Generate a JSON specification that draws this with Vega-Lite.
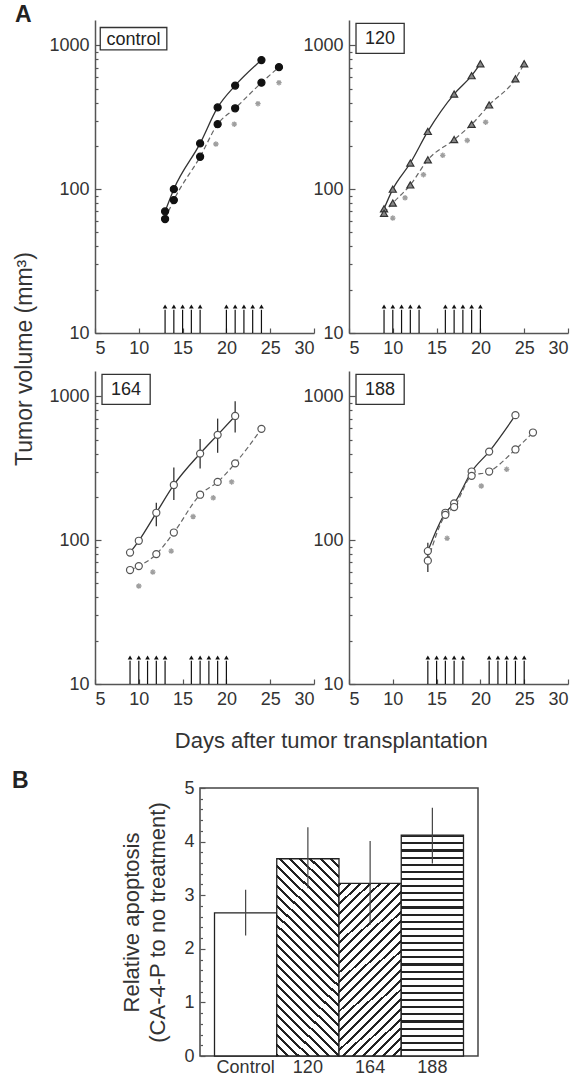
{
"$schema":"https://vega.github.io/schema/vega-lite/v6.json",
"padding":{"left":12,"top":4,"right":4,"bottom":0},
"title":{"text":"A","anchor":"start","frame":"bounds","fontSize":23,"fontWeight":"bold","offset":-17,"dx":3},
"config":{
 "font":"Liberation Sans",
 "view":{"stroke":null},
 "header":{"labels":false,"title":null,"labelPadding":0,"titlePadding":0},
 "headerFacet":{"labels":false,"title":null,"labelPadding":0,"titlePadding":0},
 "axis":{"labelFont":"Liberation Sans","labelFontSize":18,"labelColor":"#333","domainColor":"#555","domainWidth":1.5,"tickColor":"#555","tickWidth":1.2,"grid":false,"titleFont":"Liberation Sans","titleColor":"#333","titleFontWeight":"normal"},
 "title":{"font":"Liberation Sans","color":"#222"}
},
"datasets":{
"growth":[
{"panel":"control","kind":"label","label":"control"},
{"panel":"control","kind":"solid","day":13,"vol":70},
{"panel":"control","kind":"solid","day":14,"vol":100},
{"panel":"control","kind":"solid","day":17,"vol":208},
{"panel":"control","kind":"solid","day":19,"vol":370},
{"panel":"control","kind":"solid","day":21,"vol":525},
{"panel":"control","kind":"solid","day":24,"vol":790},
{"panel":"control","kind":"dashed","day":13,"vol":62},
{"panel":"control","kind":"dashed","day":14,"vol":84},
{"panel":"control","kind":"dashed","day":17,"vol":168},
{"panel":"control","kind":"dashed","day":19,"vol":283},
{"panel":"control","kind":"dashed","day":21,"vol":365},
{"panel":"control","kind":"dashed","day":24,"vol":550},
{"panel":"control","kind":"dashed","day":26,"vol":705},
{"panel":"control","kind":"star","day":18.8,"vol":206},
{"panel":"control","kind":"star","day":20.9,"vol":283},
{"panel":"control","kind":"star","day":23.6,"vol":393},
{"panel":"control","kind":"star","day":26,"vol":550},
{"panel":"control","kind":"dose","day":13},
{"panel":"control","kind":"dose","day":14},
{"panel":"control","kind":"dose","day":15},
{"panel":"control","kind":"dose","day":16},
{"panel":"control","kind":"dose","day":17},
{"panel":"control","kind":"dose","day":20},
{"panel":"control","kind":"dose","day":21},
{"panel":"control","kind":"dose","day":22},
{"panel":"control","kind":"dose","day":23},
{"panel":"control","kind":"dose","day":24},
{"panel":"120","kind":"label","label":"120"},
{"panel":"120","kind":"solid","day":9,"vol":73},
{"panel":"120","kind":"solid","day":10,"vol":100},
{"panel":"120","kind":"solid","day":12,"vol":152},
{"panel":"120","kind":"solid","day":14,"vol":252},
{"panel":"120","kind":"solid","day":17,"vol":458},
{"panel":"120","kind":"solid","day":19,"vol":615},
{"panel":"120","kind":"solid","day":20,"vol":745},
{"panel":"120","kind":"dashed","day":9,"vol":68},
{"panel":"120","kind":"dashed","day":10,"vol":80},
{"panel":"120","kind":"dashed","day":12,"vol":107},
{"panel":"120","kind":"dashed","day":14,"vol":160},
{"panel":"120","kind":"dashed","day":17,"vol":221},
{"panel":"120","kind":"dashed","day":19,"vol":282},
{"panel":"120","kind":"dashed","day":21,"vol":385},
{"panel":"120","kind":"dashed","day":24,"vol":585},
{"panel":"120","kind":"dashed","day":25,"vol":745},
{"panel":"120","kind":"star","day":10,"vol":63},
{"panel":"120","kind":"star","day":11.4,"vol":87},
{"panel":"120","kind":"star","day":13.5,"vol":126},
{"panel":"120","kind":"star","day":15.7,"vol":172},
{"panel":"120","kind":"star","day":18.5,"vol":218},
{"panel":"120","kind":"star","day":20.6,"vol":292},
{"panel":"120","kind":"dose","day":9},
{"panel":"120","kind":"dose","day":10},
{"panel":"120","kind":"dose","day":11},
{"panel":"120","kind":"dose","day":12},
{"panel":"120","kind":"dose","day":13},
{"panel":"120","kind":"dose","day":16},
{"panel":"120","kind":"dose","day":17},
{"panel":"120","kind":"dose","day":18},
{"panel":"120","kind":"dose","day":19},
{"panel":"120","kind":"dose","day":20},
{"panel":"164","kind":"label","label":"164"},
{"panel":"164","kind":"solid","day":9,"vol":82},
{"panel":"164","kind":"solid","day":10,"vol":99},
{"panel":"164","kind":"solid","day":12,"vol":155},
{"panel":"164","kind":"solid","day":14,"vol":242},
{"panel":"164","kind":"solid","day":17,"vol":400},
{"panel":"164","kind":"solid","day":19,"vol":540},
{"panel":"164","kind":"solid","day":21,"vol":730},
{"panel":"164","kind":"err","day":12,"lo":125,"hi":182},
{"panel":"164","kind":"err","day":14,"lo":190,"hi":320},
{"panel":"164","kind":"err","day":17,"lo":315,"hi":505},
{"panel":"164","kind":"err","day":19,"lo":405,"hi":700},
{"panel":"164","kind":"err","day":21,"lo":560,"hi":925},
{"panel":"164","kind":"dashed","day":9,"vol":62},
{"panel":"164","kind":"dashed","day":10,"vol":66},
{"panel":"164","kind":"dashed","day":12,"vol":80},
{"panel":"164","kind":"dashed","day":14,"vol":113},
{"panel":"164","kind":"dashed","day":17,"vol":207},
{"panel":"164","kind":"dashed","day":19,"vol":254},
{"panel":"164","kind":"dashed","day":21,"vol":342},
{"panel":"164","kind":"dashed","day":24,"vol":594},
{"panel":"164","kind":"star","day":10,"vol":48},
{"panel":"164","kind":"star","day":11.6,"vol":60},
{"panel":"164","kind":"star","day":13.7,"vol":84},
{"panel":"164","kind":"star","day":16.2,"vol":146},
{"panel":"164","kind":"star","day":18.5,"vol":197},
{"panel":"164","kind":"star","day":20.6,"vol":254},
{"panel":"164","kind":"dose","day":9},
{"panel":"164","kind":"dose","day":10},
{"panel":"164","kind":"dose","day":11},
{"panel":"164","kind":"dose","day":12},
{"panel":"164","kind":"dose","day":13},
{"panel":"164","kind":"dose","day":16},
{"panel":"164","kind":"dose","day":17},
{"panel":"164","kind":"dose","day":18},
{"panel":"164","kind":"dose","day":19},
{"panel":"164","kind":"dose","day":20},
{"panel":"188","kind":"label","label":"188"},
{"panel":"188","kind":"solid","day":14,"vol":84},
{"panel":"188","kind":"solid","day":16,"vol":155},
{"panel":"188","kind":"solid","day":17,"vol":180},
{"panel":"188","kind":"solid","day":19,"vol":300},
{"panel":"188","kind":"solid","day":21,"vol":413},
{"panel":"188","kind":"solid","day":24,"vol":740},
{"panel":"188","kind":"err","day":14,"lo":60,"hi":96},
{"panel":"188","kind":"dashed","day":14,"vol":72},
{"panel":"188","kind":"dashed","day":16,"vol":150},
{"panel":"188","kind":"dashed","day":17,"vol":170},
{"panel":"188","kind":"dashed","day":19,"vol":280},
{"panel":"188","kind":"dashed","day":21,"vol":300},
{"panel":"188","kind":"dashed","day":24,"vol":427},
{"panel":"188","kind":"dashed","day":26,"vol":560},
{"panel":"188","kind":"star","day":16.2,"vol":103},
{"panel":"188","kind":"star","day":20.1,"vol":238},
{"panel":"188","kind":"star","day":23,"vol":311},
{"panel":"188","kind":"dose","day":14},
{"panel":"188","kind":"dose","day":15},
{"panel":"188","kind":"dose","day":16},
{"panel":"188","kind":"dose","day":17},
{"panel":"188","kind":"dose","day":18},
{"panel":"188","kind":"dose","day":21},
{"panel":"188","kind":"dose","day":22},
{"panel":"188","kind":"dose","day":23},
{"panel":"188","kind":"dose","day":24},
{"panel":"188","kind":"dose","day":25}
],
"bars":[
{"group":"Control","value":2.67,"lo":2.25,"hi":3.10},
{"group":"120","value":3.68,"lo":3.13,"hi":4.27},
{"group":"164","value":3.22,"lo":2.45,"hi":4.01},
{"group":"188","value":4.12,"lo":3.59,"hi":4.63}
]
},
"spacing":18,
"vconcat":[
{
 "title":{"text":"Days after tumor transplantation","orient":"bottom","anchor":"middle","frame":"bounds","fontSize":22,"fontWeight":"normal","offset":23,"dx":40,"color":"#333"},
 "vconcat":[
 {
  "data":{"name":"growth"},
  "facet":{"field":"panel","type":"nominal","sort":["control","120","164","188"],"header":{"labels":false,"title":null,"labelExpr":"''"},"title":null},
  "columns":2,
  "spacing":{"row":38,"column":35},
  "bounds":"flush",
  "resolve":{"axis":{"x":"independent","y":"independent"}},
  "title":{"text":"Tumor volume (mm³)","orient":"left","anchor":"middle","fontSize":23,"fontWeight":"normal","offset":12,"color":"#333"},
  "spec":{
   "width":219,"height":313,
   "layer":[
    {"transform":[{"filter":"datum.kind=='solid'"}],"mark":{"type":"line","stroke":"#333","strokeWidth":1.3,"interpolate":"monotone"},
     "encoding":{
      "x":{"field":"day","type":"quantitative","scale":{"domain":[5,30],"nice":false,"zero":false},"axis":{"values":[5,10,15,20,25,30],"title":null,"tickSize":-5,"labelPadding":11}},
      "y":{"field":"vol","type":"quantitative","scale":{"type":"log","domain":[10,1500],"nice":false},"axis":{"values":[10,20,30,40,50,60,70,80,90,100,200,300,400,500,600,700,800,900,1000],"format":"d","labelOverlap":false,"labelExpr":"datum.value==10||datum.value==100||datum.value==1000 ? datum.label : ''","tickSize":{"condition":{"test":"datum.value==10||datum.value==100||datum.value==1000","value":-6},"value":-3},"labelPadding":12,"title":null}},
      "order":{"field":"day"}}},
    {"transform":[{"filter":"datum.kind=='label' && datum.panel=='control'"}],"mark":{"type":"rect","fill":"white","stroke":"#333","strokeWidth":1.3},"encoding":{"x":{"datum":5.6},"x2":{"datum":13.2},"y":{"datum":1330},"y2":{"datum":930}}},
    {"transform":[{"filter":"datum.kind=='label' && datum.panel!='control'"}],"mark":{"type":"rect","fill":"white","stroke":"#333","strokeWidth":1.3},"encoding":{"x":{"datum":5.8},"x2":{"datum":11.3},"y":{"datum":1420},"y2":{"datum":880}}},
    {"transform":[{"filter":"datum.kind=='label' && datum.panel=='control'"}],"mark":{"type":"text","fontSize":18,"color":"#222","align":"center","baseline":"middle","dy":1},"encoding":{"x":{"datum":9.4},"y":{"datum":1115},"text":{"field":"label"}}},
    {"transform":[{"filter":"datum.kind=='label' && datum.panel!='control'"}],"mark":{"type":"text","fontSize":18,"color":"#222","align":"center","baseline":"middle","dy":1},"encoding":{"x":{"datum":8.55},"y":{"datum":1118},"text":{"field":"label"}}},
    {"transform":[{"filter":"datum.kind=='dashed'"}],"mark":{"type":"line","stroke":"#666","strokeWidth":1.2,"strokeDash":[5,3],"interpolate":"monotone"},"encoding":{"x":{"field":"day","type":"quantitative"},"y":{"field":"vol","type":"quantitative"},"order":{"field":"day"}}},
    {"transform":[{"filter":"datum.kind=='err'"}],"mark":{"type":"rule","stroke":"#333","strokeWidth":1.3},"encoding":{"x":{"field":"day","type":"quantitative"},"y":{"field":"lo","type":"quantitative"},"y2":{"field":"hi"}}},
    {"transform":[{"filter":"datum.kind=='solid' || datum.kind=='dashed'"}],"mark":{"type":"point","filled":true,"strokeWidth":1.2,"size":50,"opacity":1},
     "encoding":{
      "x":{"field":"day","type":"quantitative"},
      "y":{"field":"vol","type":"quantitative"},
      "shape":{"field":"panel","type":"nominal","scale":{"domain":["control","120","164","188"],"range":["circle","triangle-up","circle","circle"]},"legend":null},
      "fill":{"field":"panel","type":"nominal","scale":{"domain":["control","120","164","188"],"range":["#111","#888","#fff","#fff"]},"legend":null},
      "stroke":{"field":"panel","type":"nominal","scale":{"domain":["control","120","164","188"],"range":["#111","#333","#555","#555"]},"legend":null}
     }},
    {"transform":[{"filter":"datum.kind=='star'"}],"mark":{"type":"point","shape":"M-1,0H1M0,-1V1M-0.7,-0.7L0.7,0.7M-0.7,0.7L0.7,-0.7","filled":false,"stroke":"#777","strokeWidth":1.3,"size":30},"encoding":{"x":{"field":"day","type":"quantitative"},"y":{"field":"vol","type":"quantitative"}}},
    {"transform":[{"filter":"datum.kind=='dose'"}],"mark":{"type":"rule","stroke":"#111","strokeWidth":1.2},"encoding":{"x":{"field":"day","type":"quantitative"},"y":{"datum":10},"y2":{"datum":14.5}}},
    {"transform":[{"filter":"datum.kind=='dose'"}],"mark":{"type":"point","shape":"triangle-up","filled":true,"color":"#111","size":22,"opacity":1},"encoding":{"x":{"field":"day","type":"quantitative"},"y":{"datum":15.3}}}
   ]
  }
 }
 ]
},
{
 "spacing":24,
 "hconcat":[
 {
  "width":1,"height":268,
  "data":{"values":[]},
  "mark":{"type":"point","opacity":0},
  "encoding":{},
  "title":{"text":"B","anchor":"start","frame":"group","dx":-83,"fontSize":23,"fontWeight":"bold","offset":-5}
 },
 {
 "data":{"name":"bars"},
 "width":278,"height":268,
 "view":{"stroke":"#444","strokeWidth":1.5},
 "encoding":{
  "x":{"field":"group","type":"nominal","sort":["Control","120","164","188"],"scale":{"paddingInner":0,"paddingOuter":0.233},"axis":{"title":null,"labelAngle":0,"ticks":false,"domain":false,"labelPadding":2}},
  "y":{"field":"value","type":"quantitative","scale":{"domain":[0,5],"nice":false},"axis":{"values":[0,0.2,0.4,0.6,0.8,1,1.2,1.4,1.6,1.8,2,2.2,2.4,2.6,2.8,3,3.2,3.4,3.6,3.8,4,4.2,4.4,4.6,4.8,5],"labelExpr":"datum.value % 1 == 0 ? format(datum.value, 'd') : ''","labelOverlap":false,"domain":false,"tickSize":{"condition":{"test":"datum.value % 1 == 0","value":-5},"value":-2.5},"labelPadding":11,"title":["Relative apoptosis","(CA-4-P to no treatment)"],"titleFontSize":22,"titlePadding":14,"titleLineHeight":26}}
 },
 "layer":[
  {"transform":[{"filter":"datum.group=='Control'"}],"mark":{"type":"bar","fill":"#fff","stroke":"#222","strokeWidth":1.3}},
  {"transform":[{"filter":"datum.group=='120'"}],"mark":{"type":"bar","stroke":"#222","strokeWidth":1.3,"fill":{"gradient":"linear","x1":0,"y1":1,"x2":0.3703,"y2":-0.1952,"stops":[
{"offset":0,"color":"#222"},{"offset":0.0115,"color":"#222"},{"offset":0.0115,"color":"#fff"},{"offset":0.0385,"color":"#fff"},
{"offset":0.0385,"color":"#222"},{"offset":0.05,"color":"#222"},{"offset":0.05,"color":"#fff"},{"offset":0.0769,"color":"#fff"},
{"offset":0.0769,"color":"#222"},{"offset":0.0885,"color":"#222"},{"offset":0.0885,"color":"#fff"},{"offset":0.1154,"color":"#fff"},
{"offset":0.1154,"color":"#222"},{"offset":0.1269,"color":"#222"},{"offset":0.1269,"color":"#fff"},{"offset":0.1538,"color":"#fff"},
{"offset":0.1538,"color":"#222"},{"offset":0.1654,"color":"#222"},{"offset":0.1654,"color":"#fff"},{"offset":0.1923,"color":"#fff"},
{"offset":0.1923,"color":"#222"},{"offset":0.2038,"color":"#222"},{"offset":0.2038,"color":"#fff"},{"offset":0.2308,"color":"#fff"},
{"offset":0.2308,"color":"#222"},{"offset":0.2423,"color":"#222"},{"offset":0.2423,"color":"#fff"},{"offset":0.2692,"color":"#fff"},
{"offset":0.2692,"color":"#222"},{"offset":0.2808,"color":"#222"},{"offset":0.2808,"color":"#fff"},{"offset":0.3077,"color":"#fff"},
{"offset":0.3077,"color":"#222"},{"offset":0.3192,"color":"#222"},{"offset":0.3192,"color":"#fff"},{"offset":0.3462,"color":"#fff"},
{"offset":0.3462,"color":"#222"},{"offset":0.3577,"color":"#222"},{"offset":0.3577,"color":"#fff"},{"offset":0.3846,"color":"#fff"},
{"offset":0.3846,"color":"#222"},{"offset":0.3962,"color":"#222"},{"offset":0.3962,"color":"#fff"},{"offset":0.4231,"color":"#fff"},
{"offset":0.4231,"color":"#222"},{"offset":0.4346,"color":"#222"},{"offset":0.4346,"color":"#fff"},{"offset":0.4615,"color":"#fff"},
{"offset":0.4615,"color":"#222"},{"offset":0.4731,"color":"#222"},{"offset":0.4731,"color":"#fff"},{"offset":0.5,"color":"#fff"},
{"offset":0.5,"color":"#222"},{"offset":0.5115,"color":"#222"},{"offset":0.5115,"color":"#fff"},{"offset":0.5385,"color":"#fff"},
{"offset":0.5385,"color":"#222"},{"offset":0.55,"color":"#222"},{"offset":0.55,"color":"#fff"},{"offset":0.5769,"color":"#fff"},
{"offset":0.5769,"color":"#222"},{"offset":0.5885,"color":"#222"},{"offset":0.5885,"color":"#fff"},{"offset":0.6154,"color":"#fff"},
{"offset":0.6154,"color":"#222"},{"offset":0.6269,"color":"#222"},{"offset":0.6269,"color":"#fff"},{"offset":0.6538,"color":"#fff"},
{"offset":0.6538,"color":"#222"},{"offset":0.6654,"color":"#222"},{"offset":0.6654,"color":"#fff"},{"offset":0.6923,"color":"#fff"},
{"offset":0.6923,"color":"#222"},{"offset":0.7038,"color":"#222"},{"offset":0.7038,"color":"#fff"},{"offset":0.7308,"color":"#fff"},
{"offset":0.7308,"color":"#222"},{"offset":0.7423,"color":"#222"},{"offset":0.7423,"color":"#fff"},{"offset":0.7692,"color":"#fff"},
{"offset":0.7692,"color":"#222"},{"offset":0.7808,"color":"#222"},{"offset":0.7808,"color":"#fff"},{"offset":0.8077,"color":"#fff"},
{"offset":0.8077,"color":"#222"},{"offset":0.8192,"color":"#222"},{"offset":0.8192,"color":"#fff"},{"offset":0.8462,"color":"#fff"},
{"offset":0.8462,"color":"#222"},{"offset":0.8577,"color":"#222"},{"offset":0.8577,"color":"#fff"},{"offset":0.8846,"color":"#fff"},
{"offset":0.8846,"color":"#222"},{"offset":0.8962,"color":"#222"},{"offset":0.8962,"color":"#fff"},{"offset":0.9231,"color":"#fff"},
{"offset":0.9231,"color":"#222"},{"offset":0.9346,"color":"#222"},{"offset":0.9346,"color":"#fff"},{"offset":0.9615,"color":"#fff"},
{"offset":0.9615,"color":"#222"},{"offset":0.9731,"color":"#222"},{"offset":0.9731,"color":"#fff"},{"offset":1,"color":"#fff"}
]}}},
  {"transform":[{"filter":"datum.group=='164'"}],"mark":{"type":"bar","stroke":"#222","strokeWidth":1.3,"fill":{"gradient":"linear","x1":0,"y1":0,"x2":0.4261,"y2":1.2032,"stops":[
{"offset":0,"color":"#222"},{"offset":0.0125,"color":"#222"},{"offset":0.0125,"color":"#fff"},{"offset":0.0417,"color":"#fff"},
{"offset":0.0417,"color":"#222"},{"offset":0.0542,"color":"#222"},{"offset":0.0542,"color":"#fff"},{"offset":0.0833,"color":"#fff"},
{"offset":0.0833,"color":"#222"},{"offset":0.0958,"color":"#222"},{"offset":0.0958,"color":"#fff"},{"offset":0.125,"color":"#fff"},
{"offset":0.125,"color":"#222"},{"offset":0.1375,"color":"#222"},{"offset":0.1375,"color":"#fff"},{"offset":0.1667,"color":"#fff"},
{"offset":0.1667,"color":"#222"},{"offset":0.1792,"color":"#222"},{"offset":0.1792,"color":"#fff"},{"offset":0.2083,"color":"#fff"},
{"offset":0.2083,"color":"#222"},{"offset":0.2208,"color":"#222"},{"offset":0.2208,"color":"#fff"},{"offset":0.25,"color":"#fff"},
{"offset":0.25,"color":"#222"},{"offset":0.2625,"color":"#222"},{"offset":0.2625,"color":"#fff"},{"offset":0.2917,"color":"#fff"},
{"offset":0.2917,"color":"#222"},{"offset":0.3042,"color":"#222"},{"offset":0.3042,"color":"#fff"},{"offset":0.3333,"color":"#fff"},
{"offset":0.3333,"color":"#222"},{"offset":0.3458,"color":"#222"},{"offset":0.3458,"color":"#fff"},{"offset":0.375,"color":"#fff"},
{"offset":0.375,"color":"#222"},{"offset":0.3875,"color":"#222"},{"offset":0.3875,"color":"#fff"},{"offset":0.4167,"color":"#fff"},
{"offset":0.4167,"color":"#222"},{"offset":0.4292,"color":"#222"},{"offset":0.4292,"color":"#fff"},{"offset":0.4583,"color":"#fff"},
{"offset":0.4583,"color":"#222"},{"offset":0.4708,"color":"#222"},{"offset":0.4708,"color":"#fff"},{"offset":0.5,"color":"#fff"},
{"offset":0.5,"color":"#222"},{"offset":0.5125,"color":"#222"},{"offset":0.5125,"color":"#fff"},{"offset":0.5417,"color":"#fff"},
{"offset":0.5417,"color":"#222"},{"offset":0.5542,"color":"#222"},{"offset":0.5542,"color":"#fff"},{"offset":0.5833,"color":"#fff"},
{"offset":0.5833,"color":"#222"},{"offset":0.5958,"color":"#222"},{"offset":0.5958,"color":"#fff"},{"offset":0.625,"color":"#fff"},
{"offset":0.625,"color":"#222"},{"offset":0.6375,"color":"#222"},{"offset":0.6375,"color":"#fff"},{"offset":0.6667,"color":"#fff"},
{"offset":0.6667,"color":"#222"},{"offset":0.6792,"color":"#222"},{"offset":0.6792,"color":"#fff"},{"offset":0.7083,"color":"#fff"},
{"offset":0.7083,"color":"#222"},{"offset":0.7208,"color":"#222"},{"offset":0.7208,"color":"#fff"},{"offset":0.75,"color":"#fff"},
{"offset":0.75,"color":"#222"},{"offset":0.7625,"color":"#222"},{"offset":0.7625,"color":"#fff"},{"offset":0.7917,"color":"#fff"},
{"offset":0.7917,"color":"#222"},{"offset":0.8042,"color":"#222"},{"offset":0.8042,"color":"#fff"},{"offset":0.8333,"color":"#fff"},
{"offset":0.8333,"color":"#222"},{"offset":0.8458,"color":"#222"},{"offset":0.8458,"color":"#fff"},{"offset":0.875,"color":"#fff"},
{"offset":0.875,"color":"#222"},{"offset":0.8875,"color":"#222"},{"offset":0.8875,"color":"#fff"},{"offset":0.9167,"color":"#fff"},
{"offset":0.9167,"color":"#222"},{"offset":0.9292,"color":"#222"},{"offset":0.9292,"color":"#fff"},{"offset":0.9583,"color":"#fff"},
{"offset":0.9583,"color":"#222"},{"offset":0.9708,"color":"#222"},{"offset":0.9708,"color":"#fff"},{"offset":1,"color":"#fff"}
]}}},
  {"transform":[{"filter":"datum.group=='188'"}],"mark":{"type":"bar","stroke":"#222","strokeWidth":1.3,"fill":{"gradient":"linear","x1":0,"y1":0,"x2":0,"y2":1,"stops":[
{"offset":0,"color":"#222"},{"offset":0.0097,"color":"#222"},{"offset":0.0097,"color":"#fff"},{"offset":0.0323,"color":"#fff"},
{"offset":0.0323,"color":"#222"},{"offset":0.0419,"color":"#222"},{"offset":0.0419,"color":"#fff"},{"offset":0.0645,"color":"#fff"},
{"offset":0.0645,"color":"#222"},{"offset":0.0742,"color":"#222"},{"offset":0.0742,"color":"#fff"},{"offset":0.0968,"color":"#fff"},
{"offset":0.0968,"color":"#222"},{"offset":0.1065,"color":"#222"},{"offset":0.1065,"color":"#fff"},{"offset":0.129,"color":"#fff"},
{"offset":0.129,"color":"#222"},{"offset":0.1387,"color":"#222"},{"offset":0.1387,"color":"#fff"},{"offset":0.1613,"color":"#fff"},
{"offset":0.1613,"color":"#222"},{"offset":0.171,"color":"#222"},{"offset":0.171,"color":"#fff"},{"offset":0.1935,"color":"#fff"},
{"offset":0.1935,"color":"#222"},{"offset":0.2032,"color":"#222"},{"offset":0.2032,"color":"#fff"},{"offset":0.2258,"color":"#fff"},
{"offset":0.2258,"color":"#222"},{"offset":0.2355,"color":"#222"},{"offset":0.2355,"color":"#fff"},{"offset":0.2581,"color":"#fff"},
{"offset":0.2581,"color":"#222"},{"offset":0.2677,"color":"#222"},{"offset":0.2677,"color":"#fff"},{"offset":0.2903,"color":"#fff"},
{"offset":0.2903,"color":"#222"},{"offset":0.3,"color":"#222"},{"offset":0.3,"color":"#fff"},{"offset":0.3226,"color":"#fff"},
{"offset":0.3226,"color":"#222"},{"offset":0.3323,"color":"#222"},{"offset":0.3323,"color":"#fff"},{"offset":0.3548,"color":"#fff"},
{"offset":0.3548,"color":"#222"},{"offset":0.3645,"color":"#222"},{"offset":0.3645,"color":"#fff"},{"offset":0.3871,"color":"#fff"},
{"offset":0.3871,"color":"#222"},{"offset":0.3968,"color":"#222"},{"offset":0.3968,"color":"#fff"},{"offset":0.4194,"color":"#fff"},
{"offset":0.4194,"color":"#222"},{"offset":0.429,"color":"#222"},{"offset":0.429,"color":"#fff"},{"offset":0.4516,"color":"#fff"},
{"offset":0.4516,"color":"#222"},{"offset":0.4613,"color":"#222"},{"offset":0.4613,"color":"#fff"},{"offset":0.4839,"color":"#fff"},
{"offset":0.4839,"color":"#222"},{"offset":0.4935,"color":"#222"},{"offset":0.4935,"color":"#fff"},{"offset":0.5161,"color":"#fff"},
{"offset":0.5161,"color":"#222"},{"offset":0.5258,"color":"#222"},{"offset":0.5258,"color":"#fff"},{"offset":0.5484,"color":"#fff"},
{"offset":0.5484,"color":"#222"},{"offset":0.5581,"color":"#222"},{"offset":0.5581,"color":"#fff"},{"offset":0.5806,"color":"#fff"},
{"offset":0.5806,"color":"#222"},{"offset":0.5903,"color":"#222"},{"offset":0.5903,"color":"#fff"},{"offset":0.6129,"color":"#fff"},
{"offset":0.6129,"color":"#222"},{"offset":0.6226,"color":"#222"},{"offset":0.6226,"color":"#fff"},{"offset":0.6452,"color":"#fff"},
{"offset":0.6452,"color":"#222"},{"offset":0.6548,"color":"#222"},{"offset":0.6548,"color":"#fff"},{"offset":0.6774,"color":"#fff"},
{"offset":0.6774,"color":"#222"},{"offset":0.6871,"color":"#222"},{"offset":0.6871,"color":"#fff"},{"offset":0.7097,"color":"#fff"},
{"offset":0.7097,"color":"#222"},{"offset":0.7194,"color":"#222"},{"offset":0.7194,"color":"#fff"},{"offset":0.7419,"color":"#fff"},
{"offset":0.7419,"color":"#222"},{"offset":0.7516,"color":"#222"},{"offset":0.7516,"color":"#fff"},{"offset":0.7742,"color":"#fff"},
{"offset":0.7742,"color":"#222"},{"offset":0.7839,"color":"#222"},{"offset":0.7839,"color":"#fff"},{"offset":0.8065,"color":"#fff"},
{"offset":0.8065,"color":"#222"},{"offset":0.8161,"color":"#222"},{"offset":0.8161,"color":"#fff"},{"offset":0.8387,"color":"#fff"},
{"offset":0.8387,"color":"#222"},{"offset":0.8484,"color":"#222"},{"offset":0.8484,"color":"#fff"},{"offset":0.871,"color":"#fff"},
{"offset":0.871,"color":"#222"},{"offset":0.8806,"color":"#222"},{"offset":0.8806,"color":"#fff"},{"offset":0.9032,"color":"#fff"},
{"offset":0.9032,"color":"#222"},{"offset":0.9129,"color":"#222"},{"offset":0.9129,"color":"#fff"},{"offset":0.9355,"color":"#fff"},
{"offset":0.9355,"color":"#222"},{"offset":0.9452,"color":"#222"},{"offset":0.9452,"color":"#fff"},{"offset":0.9677,"color":"#fff"},
{"offset":0.9677,"color":"#222"},{"offset":0.9774,"color":"#222"},{"offset":0.9774,"color":"#fff"},{"offset":1,"color":"#fff"}
]}}},
  {"mark":{"type":"rule","stroke":"#444","strokeWidth":1.2},"encoding":{"y":{"field":"lo","type":"quantitative"},"y2":{"field":"hi"}}}
 ]
 }
 ]
}
]
}
